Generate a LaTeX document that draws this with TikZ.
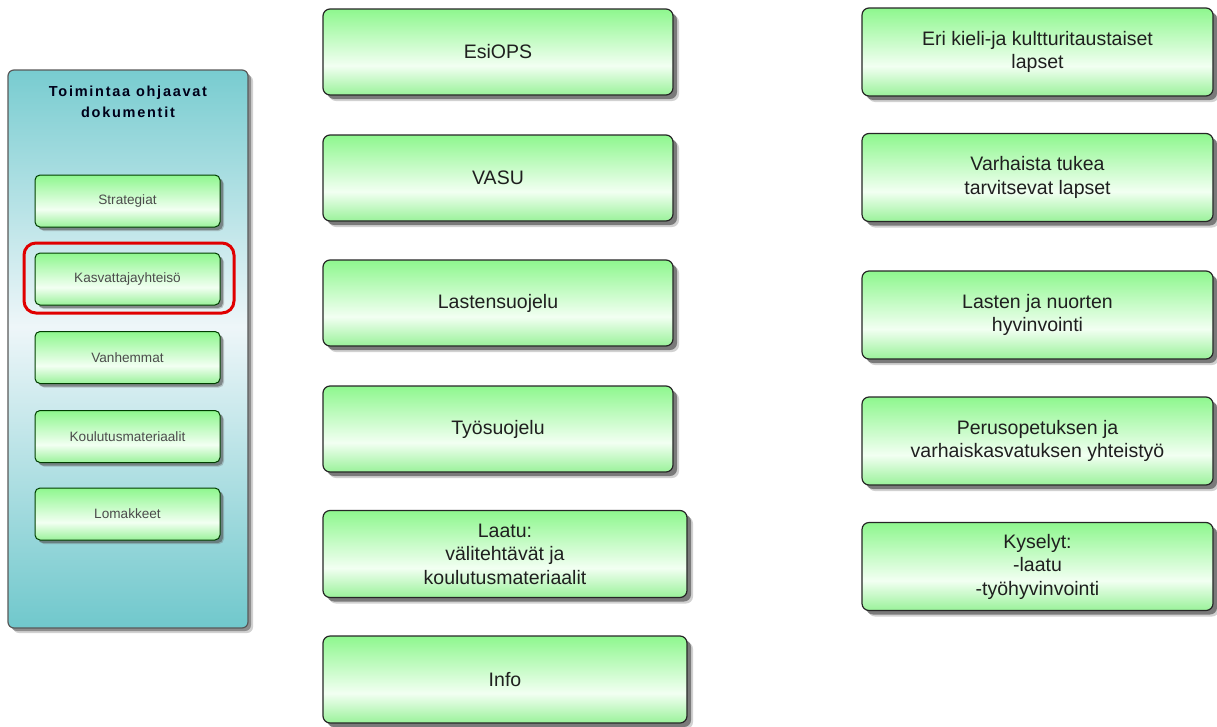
\documentclass[tikz,border=0pt]{standalone}
\usepackage{fontspec}
\setmainfont{Liberation Sans}
\usetikzlibrary{shadows}
\definecolor{boxgreen}{HTML}{8EF78E}
\definecolor{boxbottom}{HTML}{9AF29A}
\definecolor{boxlight}{HTML}{F2FFF2}
\definecolor{panelteal}{HTML}{78CCD0}
\definecolor{panellight}{HTML}{EEF6F9}
\definecolor{panelbottom}{HTML}{70C8CC}
\definecolor{selred}{HTML}{E00000}
\pgfdeclareverticalshading{greenshade}{100bp}{color(0bp)=(boxbottom); color(25bp)=(boxbottom); color(42bp)=(boxlight); color(75bp)=(boxgreen); color(100bp)=(boxgreen)}
\pgfdeclareverticalshading{tealshade}{100bp}{color(0bp)=(panelbottom); color(25bp)=(panelbottom); color(52bp)=(panellight); color(75bp)=(panelteal); color(100bp)=(panelteal)}
\tikzset{
  gbox/.style={draw=black!85, line width=1.2pt, rounded corners=7pt, shading=greenshade,
    drop shadow={shadow xshift=6pt, shadow yshift=-6pt, fill=black!60, opacity=0.3},
    drop shadow={shadow xshift=4pt, shadow yshift=-4pt, fill=black!75, opacity=0.6},
    align=center, text=black!88, font=\fontsize{19.5}{23.5}\selectfont, inner sep=0pt},
  sbox/.style={draw=black!60!green!60!black, line width=1pt, rounded corners=5pt, shading=greenshade,
    drop shadow={shadow xshift=4pt, shadow yshift=-4pt, fill=black!60, opacity=0.3},
    drop shadow={shadow xshift=3pt, shadow yshift=-3pt, fill=black!70, opacity=0.5},
    align=center, text=black!70, font=\fontsize{13.6}{16}\selectfont, inner sep=0pt,
    minimum width=185pt, minimum height=52pt},
  panel/.style={draw=black!65, line width=1.2pt, rounded corners=6pt, shading=tealshade,
    drop shadow={shadow xshift=5pt, shadow yshift=-5pt, fill=black!60, opacity=0.3},
    drop shadow={shadow xshift=3pt, shadow yshift=-3pt, fill=black!70, opacity=0.5},
    inner sep=0pt},
  midbox/.style={gbox, minimum width=350pt, minimum height=86pt},
  widebox/.style={gbox, minimum width=364pt, minimum height=87pt},
  rbox/.style={gbox, minimum width=351pt, minimum height=88pt},
  selbox/.style={draw=selred, line width=3pt, rounded corners=12pt, inner sep=0pt,
    minimum width=210pt, minimum height=70pt},
  ptitle/.style={align=center, text=black!90!blue, inner sep=0pt,
    font=\fontsize{14.5}{21}\selectfont\bfseries\addfontfeature{LetterSpace=12}}
}
\begin{document}
\begin{tikzpicture}[x=1pt,y=-1pt]
\useasboundingbox (0,0) rectangle (1217,726);
% left panel
\node[panel, minimum width=240pt, minimum height=558pt] (panel) at (128,349) {};
\node[ptitle] (title) at (128,102) {Toimintaa ohjaavat\\dokumentit};
\node[sbox] (strat) at (127.5,201) {Strategiat};
\node[sbox] (kasv) at (127.5,279) {Kasvattajayhteisö};
\node[sbox] (vanh) at (127.5,357.5) {Vanhemmat};
\node[sbox] (koul) at (127.5,436.5) {Koulutusmateriaalit};
\node[sbox] (loma) at (127.5,514) {Lomakkeet};
\node[selbox] (sel) at (129,278) {};
% middle column
\node[midbox] (esiops) at (498,52) {EsiOPS};
\node[midbox] (vasu) at (498,178) {VASU};
\node[midbox] (lsuoj) at (498,303) {Lastensuojelu};
\node[midbox] (tsuoj) at (498,429) {Työsuojelu};
\node[widebox] (laatu) at (505,554) {Laatu:\\välitehtävät ja\\koulutusmateriaalit};
\node[widebox] (info) at (505,679.5) {Info};
% right column
\node[rbox] (eri) at (1037.5,52) {Eri kieli-ja kultturitaustaiset\\lapset};
\node[rbox] (varh) at (1037.5,177.5) {Varhaista tukea\\tarvitsevat lapset};
\node[rbox] (lnh) at (1037.5,315) {Lasten ja nuorten\\hyvinvointi};
\node[rbox] (peru) at (1037.5,441) {Perusopetuksen ja\\varhaiskasvatuksen yhteistyö};
\node[rbox] (kys) at (1037.5,566.5) {Kyselyt:\\-laatu\\-työhyvinvointi};
\end{tikzpicture}
\end{document}
